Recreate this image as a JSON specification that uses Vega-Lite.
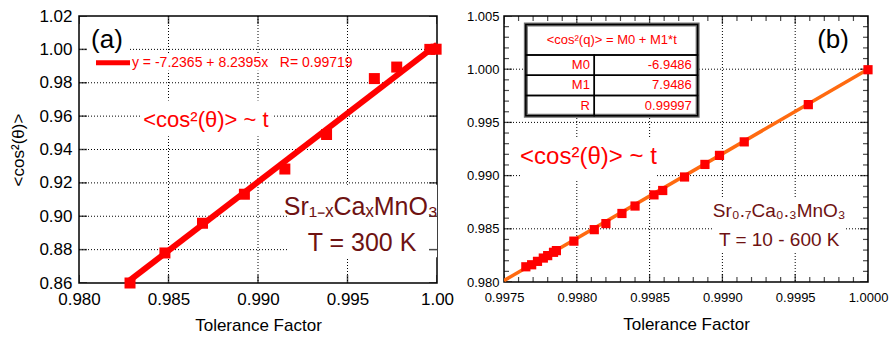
{
  "$schema": "https://vega.github.io/schema/vega-lite/v6.json",
  "padding": {"left": 9, "top": 6, "right": 3, "bottom": 2},
  "background": "white",
  "spacing": 10,
  "config": {
    "font": "Liberation Sans",
    "view": {"stroke": "black", "strokeWidth": 1.5},
    "axis": {
      "labelColor": "black", "titleColor": "black",
      "labelFont": "Liberation Sans", "titleFont": "Liberation Sans",
      "titleFontWeight": "normal", "ticks": false, "domain": false, "grid": false,
      "labelFlush": false, "labelOverlap": false
    }
  },
  "datasets": {
    "aXmaj": [{"v": 0.98}, {"v": 0.985}, {"v": 0.99}, {"v": 0.995}, {"v": 1.0}],
    "aYmaj": [{"v": 0.86}, {"v": 0.88}, {"v": 0.9}, {"v": 0.92}, {"v": 0.94}, {"v": 0.96}, {"v": 0.98}, {"v": 1.0}, {"v": 1.02}],
    "aXgrid": [{"v": 0.985}, {"v": 0.99}, {"v": 0.995}],
    "aYgrid": [{"v": 0.88}, {"v": 0.9}, {"v": 0.92}, {"v": 0.94}, {"v": 0.96}, {"v": 0.98}, {"v": 1.0}],
    "bXmaj": [{"v": 0.9975}, {"v": 0.998}, {"v": 0.9985}, {"v": 0.999}, {"v": 0.9995}, {"v": 1.0}],
    "bXmin": [{"v": 0.9976}, {"v": 0.9977}, {"v": 0.9978}, {"v": 0.9979}, {"v": 0.9981}, {"v": 0.9982}, {"v": 0.9983}, {"v": 0.9984}, {"v": 0.9986}, {"v": 0.9987}, {"v": 0.9988}, {"v": 0.9989}, {"v": 0.9991}, {"v": 0.9992}, {"v": 0.9993}, {"v": 0.9994}, {"v": 0.9996}, {"v": 0.9997}, {"v": 0.9998}, {"v": 0.9999}],
    "bYmaj": [{"v": 0.98}, {"v": 0.985}, {"v": 0.99}, {"v": 0.995}, {"v": 1.0}, {"v": 1.005}],
    "bYmin": [{"v": 0.981}, {"v": 0.982}, {"v": 0.983}, {"v": 0.984}, {"v": 0.986}, {"v": 0.987}, {"v": 0.988}, {"v": 0.989}, {"v": 0.991}, {"v": 0.992}, {"v": 0.993}, {"v": 0.994}, {"v": 0.996}, {"v": 0.997}, {"v": 0.998}, {"v": 0.999}, {"v": 1.001}, {"v": 1.002}, {"v": 1.003}, {"v": 1.004}],
    "bXgrid": [{"v": 0.998}, {"v": 0.9985}, {"v": 0.999}, {"v": 0.9995}],
    "bYgrid": [{"v": 0.985}, {"v": 0.99}, {"v": 0.995}, {"v": 1.0}]
  },
  "hconcat": [
    {
      "width": 358,
      "height": 267,
      "layer": [
        {
          "data": {"name": "aXgrid"},
          "mark": {"type": "rule", "color": "black", "strokeWidth": 1, "strokeDash": [1, 2]},
          "encoding": {"x": {"field": "v", "type": "quantitative", "axis": null}}
        },
        {
          "data": {"name": "aYgrid"},
          "mark": {"type": "rule", "color": "black", "strokeWidth": 1, "strokeDash": [1, 2]},
          "encoding": {"y": {"field": "v", "type": "quantitative", "axis": null}}
        },
        {
          "data": {"values": [
            {"x0": 0.98048, "x1": 0.98274, "y0": 0.99679, "y1": 1.01464},
            {"x0": 0.98078, "x1": 0.99475, "y0": 0.98726, "y1": 0.99679},
            {"x0": 0.98341, "x1": 0.99078, "y0": 0.9480, "y1": 0.9694},
            {"x0": 0.99173, "x1": 1.0, "y0": 0.87536, "y1": 0.91881}
          ]},
          "mark": {"type": "rect", "fill": "white", "strokeWidth": 0},
          "encoding": {
            "x": {"field": "x0", "type": "quantitative", "axis": null},
            "x2": {"field": "x1"},
            "y": {"field": "y0", "type": "quantitative", "axis": null},
            "y2": {"field": "y1"}
          }
        },
        {
          "data": {"name": "aXmaj"},
          "mark": {"type": "tick", "orient": "vertical", "color": "black", "thickness": 1.5, "size": 16, "clip": true},
          "encoding": {"x": {"field": "v", "type": "quantitative", "axis": null}, "y": {"datum": 0.86, "type": "quantitative", "axis": null}}
        },
        {
          "data": {"name": "aXmaj"},
          "mark": {"type": "tick", "orient": "vertical", "color": "black", "thickness": 1.5, "size": 16, "clip": true},
          "encoding": {"x": {"field": "v", "type": "quantitative", "axis": null}, "y": {"datum": 1.02, "type": "quantitative", "axis": null}}
        },
        {
          "data": {"name": "aYmaj"},
          "mark": {"type": "tick", "orient": "horizontal", "color": "black", "thickness": 1.5, "size": 16, "clip": true},
          "encoding": {"y": {"field": "v", "type": "quantitative", "axis": null}, "x": {"datum": 0.98, "type": "quantitative", "axis": null}}
        },
        {
          "data": {"name": "aYmaj"},
          "mark": {"type": "tick", "orient": "horizontal", "color": "black", "thickness": 1.5, "size": 16, "clip": true},
          "encoding": {"y": {"field": "v", "type": "quantitative", "axis": null}, "x": {"datum": 1.0, "type": "quantitative", "axis": null}}
        },
        {
          "data": {"values": [{"t": 0.98285, "c": 0.8617}, {"t": 1.0, "c": 1.0029}]},
          "mark": {"type": "line", "color": "#ff0000", "strokeWidth": 6, "clip": true},
          "encoding": {
            "x": {"field": "t", "type": "quantitative",
              "scale": {"domain": [0.98, 1.0], "nice": false, "zero": false},
              "axis": {"orient": "bottom", "values": [0.98, 0.985, 0.99, 0.995, 1.0],
                "labelExpr": "datum.value >= 0.9999 ? '1.00' : format(datum.value, '.3f')",
                "title": "Tolerance Factor", "titleFontSize": 17, "titlePadding": 10,
                "labelFontSize": 17, "labelPadding": 8}},
            "y": {"field": "c", "type": "quantitative",
              "scale": {"domain": [0.86, 1.02], "nice": false, "zero": false},
              "axis": {"orient": "left", "values": [0.86, 0.88, 0.9, 0.92, 0.94, 0.96, 0.98, 1.0, 1.02],
                "format": ".2f", "title": "<cos²(θ)>", "titleFontSize": 17, "titlePadding": 11,
                "labelFontSize": 17, "labelPadding": 7}}
          }
        },
        {
          "data": {"values": [{"t": 0.98095, "c": 0.99202}, {"t": 0.98285, "c": 0.99202}]},
          "mark": {"type": "line", "color": "#ff0000", "strokeWidth": 5},
          "encoding": {
            "x": {"field": "t", "type": "quantitative", "axis": null},
            "y": {"field": "c", "type": "quantitative", "axis": null}
          }
        },
        {
          "data": {"values": [
            {"t": 0.98285, "c": 0.8600},
            {"t": 0.9848, "c": 0.8780},
            {"t": 0.9869, "c": 0.8958},
            {"t": 0.98924, "c": 0.9132},
            {"t": 0.9915, "c": 0.9283},
            {"t": 0.99383, "c": 0.9490},
            {"t": 0.9965, "c": 0.9825},
            {"t": 0.99775, "c": 0.9894},
            {"t": 0.9996, "c": 1.0000},
            {"t": 0.99995, "c": 1.0001}
          ]},
          "mark": {"type": "square", "color": "#ff0000", "opacity": 1, "size": 121, "clip": false},
          "encoding": {
            "x": {"field": "t", "type": "quantitative", "axis": null},
            "y": {"field": "c", "type": "quantitative", "axis": null}
          }
        },
        {
          "data": {"values": [{"t": 0.98296, "c": 0.99202, "label": "y = -7.2365 + 8.2395x\u00a0\u00a0\u00a0R= 0.99719"}]},
          "mark": {"type": "text", "color": "#ff0000", "fontSize": 14, "align": "left", "baseline": "middle"},
          "encoding": {
            "x": {"field": "t", "type": "quantitative", "axis": null},
            "y": {"field": "c", "type": "quantitative", "axis": null},
            "text": {"field": "label"}
          }
        },
        {
          "data": {"values": [{"t": 0.98156, "c": 1.0057, "label": "(a)"}]},
          "mark": {"type": "text", "color": "black", "fontSize": 26, "align": "center", "baseline": "middle"},
          "encoding": {
            "x": {"field": "t", "type": "quantitative", "axis": null},
            "y": {"field": "c", "type": "quantitative", "axis": null},
            "text": {"field": "label"}
          }
        },
        {
          "data": {"values": [{"t": 0.98709, "c": 0.9533, "label": "<cos²(θ)> ~ t"}]},
          "mark": {"type": "text", "color": "#ff0000", "fontSize": 22, "align": "center", "baseline": "alphabetic"},
          "encoding": {
            "x": {"field": "t", "type": "quantitative", "axis": null},
            "y": {"field": "c", "type": "quantitative", "axis": null},
            "text": {"field": "label"}
          }
        },
        {
          "data": {"values": [
            {"t": 0.99575, "c": 0.9010, "label": "Sr₁₋ₓCaₓMnO₃"},
            {"t": 0.99581, "c": 0.8789, "label": "T = 300 K"}
          ]},
          "mark": {"type": "text", "color": "#6e1212", "fontSize": 25, "align": "center", "baseline": "alphabetic"},
          "encoding": {
            "x": {"field": "t", "type": "quantitative", "axis": null},
            "y": {"field": "c", "type": "quantitative", "axis": null},
            "text": {"field": "label"}
          }
        }
      ],
      "resolve": {"axis": {"x": "independent", "y": "independent"}}
    },
    {
      "width": 364,
      "height": 266,
      "layer": [
        {
          "data": {"name": "bXgrid"},
          "mark": {"type": "rule", "color": "black", "strokeWidth": 1, "strokeDash": [1, 2]},
          "encoding": {"x": {"field": "v", "type": "quantitative", "axis": null}}
        },
        {
          "data": {"name": "bYgrid"},
          "mark": {"type": "rule", "color": "black", "strokeWidth": 1, "strokeDash": [1, 2]},
          "encoding": {"y": {"field": "v", "type": "quantitative", "axis": null}}
        },
        {
          "data": {"values": [
            {"x0": 0.99762, "x1": 0.99855, "y0": 0.98962, "y1": 0.99343},
            {"x0": 0.99894, "x1": 0.99984, "y0": 0.98276, "y1": 0.988}
          ]},
          "mark": {"type": "rect", "fill": "white", "strokeWidth": 0},
          "encoding": {
            "x": {"field": "x0", "type": "quantitative", "axis": null},
            "x2": {"field": "x1"},
            "y": {"field": "y0", "type": "quantitative", "axis": null},
            "y2": {"field": "y1"}
          }
        },
        {
          "data": {"name": "bXmaj"},
          "mark": {"type": "tick", "orient": "vertical", "color": "black", "thickness": 1.3, "size": 16, "clip": true},
          "encoding": {"x": {"field": "v", "type": "quantitative", "axis": null}, "y": {"datum": 0.98, "type": "quantitative", "axis": null}}
        },
        {
          "data": {"name": "bXmaj"},
          "mark": {"type": "tick", "orient": "vertical", "color": "black", "thickness": 1.3, "size": 16, "clip": true},
          "encoding": {"x": {"field": "v", "type": "quantitative", "axis": null}, "y": {"datum": 1.005, "type": "quantitative", "axis": null}}
        },
        {
          "data": {"name": "bXmin"},
          "mark": {"type": "tick", "orient": "vertical", "color": "black", "thickness": 1.2, "size": 10, "clip": true},
          "encoding": {"x": {"field": "v", "type": "quantitative", "axis": null}, "y": {"datum": 0.98, "type": "quantitative", "axis": null}}
        },
        {
          "data": {"name": "bXmin"},
          "mark": {"type": "tick", "orient": "vertical", "color": "black", "thickness": 1.2, "size": 10, "clip": true},
          "encoding": {"x": {"field": "v", "type": "quantitative", "axis": null}, "y": {"datum": 1.005, "type": "quantitative", "axis": null}}
        },
        {
          "data": {"name": "bYmaj"},
          "mark": {"type": "tick", "orient": "horizontal", "color": "black", "thickness": 1.3, "size": 16, "clip": true},
          "encoding": {"y": {"field": "v", "type": "quantitative", "axis": null}, "x": {"datum": 0.9975, "type": "quantitative", "axis": null}}
        },
        {
          "data": {"name": "bYmaj"},
          "mark": {"type": "tick", "orient": "horizontal", "color": "black", "thickness": 1.3, "size": 16, "clip": true},
          "encoding": {"y": {"field": "v", "type": "quantitative", "axis": null}, "x": {"datum": 1.0, "type": "quantitative", "axis": null}}
        },
        {
          "data": {"name": "bYmin"},
          "mark": {"type": "tick", "orient": "horizontal", "color": "black", "thickness": 1.2, "size": 10, "clip": true},
          "encoding": {"y": {"field": "v", "type": "quantitative", "axis": null}, "x": {"datum": 0.9975, "type": "quantitative", "axis": null}}
        },
        {
          "data": {"name": "bYmin"},
          "mark": {"type": "tick", "orient": "horizontal", "color": "black", "thickness": 1.2, "size": 10, "clip": true},
          "encoding": {"y": {"field": "v", "type": "quantitative", "axis": null}, "x": {"datum": 1.0, "type": "quantitative", "axis": null}}
        },
        {
          "data": {"values": [{"t": 0.9975, "c": 0.98013}, {"t": 1.0, "c": 1.0}]},
          "mark": {"type": "line", "color": "#ff6a10", "strokeWidth": 3.5, "clip": true},
          "encoding": {
            "x": {"field": "t", "type": "quantitative",
              "scale": {"domain": [0.9975, 1.0], "nice": false, "zero": false},
              "axis": {"orient": "bottom", "values": [0.9975, 0.998, 0.9985, 0.999, 0.9995, 1.0],
                "format": ".4f", "title": "Tolerance Factor", "titleFontSize": 17, "titlePadding": 12,
                "labelFontSize": 13, "labelPadding": 9}},
            "y": {"field": "c", "type": "quantitative",
              "scale": {"domain": [0.98, 1.005], "nice": false, "zero": false},
              "axis": {"orient": "left", "values": [0.98, 0.985, 0.99, 0.995, 1.0, 1.005],
                "format": ".3f", "title": null, "labelFontSize": 13, "labelPadding": 5}}
          }
        },
        {
          "data": {"values": [
            {"t": 0.99765, "c": 0.98143},
            {"t": 0.99769, "c": 0.98162},
            {"t": 0.99773, "c": 0.98194},
            {"t": 0.99777, "c": 0.98225},
            {"t": 0.9978, "c": 0.98248},
            {"t": 0.99784, "c": 0.98279},
            {"t": 0.99786, "c": 0.98295},
            {"t": 0.99798, "c": 0.98384},
            {"t": 0.99812, "c": 0.98492},
            {"t": 0.9982, "c": 0.98549},
            {"t": 0.99831, "c": 0.98644},
            {"t": 0.9984, "c": 0.98714},
            {"t": 0.99853, "c": 0.98819},
            {"t": 0.99859, "c": 0.9886},
            {"t": 0.99874, "c": 0.98987},
            {"t": 0.99888, "c": 0.99105},
            {"t": 0.99898, "c": 0.9919},
            {"t": 0.99915, "c": 0.99317},
            {"t": 0.99959, "c": 0.99667},
            {"t": 1.0, "c": 0.99995}
          ]},
          "mark": {"type": "square", "color": "#ff0000", "opacity": 1, "size": 85, "clip": false},
          "encoding": {
            "x": {"field": "t", "type": "quantitative", "axis": null},
            "y": {"field": "c", "type": "quantitative", "axis": null}
          }
        },
        {
          "data": {"values": [{"x0": 0.99765, "x1": 0.99883, "y0": 0.99562, "y1": 1.00419}]},
          "mark": {"type": "rect", "fill": "white", "stroke": "#707070", "strokeWidth": 4},
          "encoding": {
            "x": {"field": "x0", "type": "quantitative", "axis": null},
            "x2": {"field": "x1"},
            "y": {"field": "y0", "type": "quantitative", "axis": null},
            "y2": {"field": "y1"}
          }
        },
        {
          "data": {"values": [
            {"x0": 0.99765, "x1": 0.99883, "y0": 1.00133, "y1": 1.00419},
            {"x0": 0.99765, "x1": 0.99812, "y0": 0.99943, "y1": 1.00133},
            {"x0": 0.99812, "x1": 0.99883, "y0": 0.99943, "y1": 1.00133},
            {"x0": 0.99765, "x1": 0.99812, "y0": 0.99752, "y1": 0.99943},
            {"x0": 0.99812, "x1": 0.99883, "y0": 0.99752, "y1": 0.99943},
            {"x0": 0.99765, "x1": 0.99812, "y0": 0.99562, "y1": 0.99752},
            {"x0": 0.99812, "x1": 0.99883, "y0": 0.99562, "y1": 0.99752}
          ]},
          "mark": {"type": "rect", "fill": null, "fillOpacity": 0, "stroke": "black", "strokeWidth": 1.5},
          "encoding": {
            "x": {"field": "x0", "type": "quantitative", "axis": null},
            "x2": {"field": "x1"},
            "y": {"field": "y0", "type": "quantitative", "axis": null},
            "y2": {"field": "y1"}
          }
        },
        {
          "data": {"values": [{"t": 0.99824, "c": 1.00276, "label": "<cos²(q)> = M0 + M1*t"}]},
          "mark": {"type": "text", "color": "#ff0000", "fontSize": 13, "align": "center", "baseline": "middle"},
          "encoding": {
            "x": {"field": "t", "type": "quantitative", "axis": null},
            "y": {"field": "c", "type": "quantitative", "axis": null},
            "text": {"field": "label"}
          }
        },
        {
          "data": {"values": [
            {"t": 0.99809, "c": 1.00041, "label": "M0"},
            {"t": 0.99809, "c": 0.99848, "label": "M1"},
            {"t": 0.99809, "c": 0.99652, "label": "R"},
            {"t": 0.99879, "c": 1.00041, "label": "-6.9486"},
            {"t": 0.99879, "c": 0.99848, "label": "7.9486"},
            {"t": 0.99879, "c": 0.99652, "label": "0.99997"}
          ]},
          "mark": {"type": "text", "color": "#ff0000", "fontSize": 13, "align": "right", "baseline": "middle"},
          "encoding": {
            "x": {"field": "t", "type": "quantitative", "axis": null},
            "y": {"field": "c", "type": "quantitative", "axis": null},
            "text": {"field": "label"}
          }
        },
        {
          "data": {"values": [{"t": 0.99976, "c": 1.00276, "label": "(b)"}]},
          "mark": {"type": "text", "color": "black", "fontSize": 26, "align": "center", "baseline": "middle"},
          "encoding": {
            "x": {"field": "t", "type": "quantitative", "axis": null},
            "y": {"field": "c", "type": "quantitative", "axis": null},
            "text": {"field": "label"}
          }
        },
        {
          "data": {"values": [{"t": 0.99808, "c": 0.99105, "label": "<cos²(θ)> ~ t"}]},
          "mark": {"type": "text", "color": "#ff0000", "fontSize": 24, "align": "center", "baseline": "alphabetic"},
          "encoding": {
            "x": {"field": "t", "type": "quantitative", "axis": null},
            "y": {"field": "c", "type": "quantitative", "axis": null},
            "text": {"field": "label"}
          }
        },
        {
          "data": {"values": [
            {"t": 0.99939, "c": 0.9861, "label": "Sr₀.₇Ca₀.₃MnO₃"},
            {"t": 0.99939, "c": 0.98343, "label": "T = 10 - 600 K"}
          ]},
          "mark": {"type": "text", "color": "#6e1212", "fontSize": 19, "align": "center", "baseline": "alphabetic"},
          "encoding": {
            "x": {"field": "t", "type": "quantitative", "axis": null},
            "y": {"field": "c", "type": "quantitative", "axis": null},
            "text": {"field": "label"}
          }
        }
      ],
      "resolve": {"axis": {"x": "independent", "y": "independent"}}
    }
  ]
}
